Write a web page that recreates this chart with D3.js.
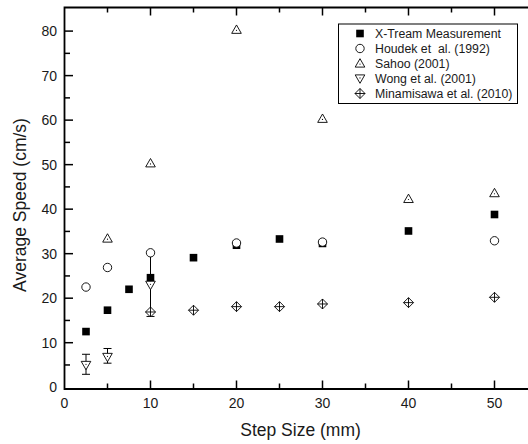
<!DOCTYPE html>
<html>
<head>
<meta charset="utf-8">
<script src="https://cdn.jsdelivr.net/npm/d3@7"></script>
<style>
  body { margin: 0; background: #fff; }
  text { font-family: "Liberation Sans", Arial, sans-serif; fill: #1a1a1a; white-space: pre; }
</style>
</head>
<body>
<div id="chart"></div>
<script>
// Average speed vs step size, several studies (Origin-style scatter)
const W = 528, H = 444;

// ---------- Data ----------
const xtreamX = [2.5, 5, 7.5, 10, 15, 20, 25, 30, 40, 50];
const xtreamY = [12.5, 17.3, 22.0, 24.6, 29.1, 31.9, 33.3, 32.3, 35.1, 38.8];

const houdekX = [2.5, 5, 10, 20, 30, 50];
const houdekY = [22.5, 26.9, 30.2, 32.4, 32.6, 32.9];

const sahooX = [5, 10, 20, 30, 40, 50];
const sahooY = [33.4, 50.3, 80.3, 60.3, 42.3, 43.6];

const wongX = [2.5, 5, 10];
const wongY = [5.0, 6.8, 23.0];
const wongLo = [2.9, 5.4, 15.9];
const wongHi = [7.4, 8.7, 30.4];

const minaX = [10, 15, 20, 25, 30, 40, 50];
const minaY = [16.9, 17.3, 18.1, 18.1, 18.7, 19.0, 20.2];

const legendNames = ["X-Tream Measurement", "Houdek et  al. (1992)", "Sahoo (2001)",
  "Wong et al. (2001)", "Minamisawa et al. (2010)"];
const legendKinds = ["square", "circle", "up", "down", "diamond"];

const xTicks = [0, 10, 20, 30, 40, 50];
const yTicks = [0, 10, 20, 30, 40, 50, 60, 70, 80];

// ---------- Layout ----------
const plotL = 64.5, plotT = 7.5, plotB = 389;
const x = d3.scaleLinear().domain([0, 55]).range([plotL, plotL + 55 * 8.6]);
const y = d3.scaleLinear().domain([-0.4, 85.3]).range([plotB, plotT]);

const svg = d3.select("#chart").append("svg").attr("width", W).attr("height", H);

// minor + major ticks, inward
const axisG = svg.append("g");
const xMinor = d3.range(5, 55, 10);
const yMinor = d3.range(5, 85, 10);

function tickLines(vals, len, side) {
  const horiz = side === "b" || side === "t";
  axisG.append("g").selectAll("line").data(vals).join("line")
    .attr("x1", d => horiz ? x(d) : plotL)
    .attr("x2", d => horiz ? x(d) : plotL + len)
    .attr("y1", d => side === "b" ? plotB : side === "t" ? plotT : y(d))
    .attr("y2", d => side === "b" ? plotB - len : side === "t" ? plotT + len : y(d))
    .attr("stroke", "#000").attr("stroke-width", 1.5);
}
tickLines(xTicks.filter(d => d > 0), 8.5, "b");
tickLines(xMinor, 5.5, "b");
tickLines(xTicks.filter(d => d > 0), 8, "t");
tickLines(xMinor, 5, "t");
tickLines(yTicks.filter(d => d > 0), 8.5, "l");
tickLines(yMinor, 5.5, "l");

// frame (right side runs past the window)
svg.append("path")
  .attr("d", `M${W + 20},${plotT}H${plotL}V${plotB}H${W + 20}`)
  .attr("fill", "none").attr("stroke", "#000").attr("stroke-width", 1.8);

// tick labels
svg.append("g").selectAll("text").data(xTicks).join("text")
  .attr("x", d => x(d)).attr("y", 408)
  .attr("text-anchor", "middle").attr("font-size", 14).text(d => d);
svg.append("g").selectAll("text").data(yTicks).join("text")
  .attr("x", 57).attr("y", d => y(d) + 5)
  .attr("text-anchor", "end").attr("font-size", 14).text(d => d);

// axis titles
svg.append("text").attr("x", 300.5).attr("y", 436)
  .attr("text-anchor", "middle").attr("font-size", 17.5).text("Step Size (mm)");
svg.append("text").attr("transform", "translate(26,205) rotate(-90)")
  .attr("text-anchor", "middle").attr("font-size", 17.5).text("Average Speed (cm/s)");

// ---------- Markers ----------
function marker(g, kind) {
  const outline = sel => sel.attr("stroke", "#000").attr("stroke-width", 0.9);
  if (kind === "square") {
    g.append("rect").attr("x", -3.8).attr("y", -3.8).attr("width", 7.6).attr("height", 7.6)
      .attr("fill", "#000");
  } else if (kind === "circle") {
    outline(g.append("circle").attr("r", 4.2).attr("fill", "#fff"));
  } else if (kind === "up") {
    outline(g.append("path").attr("d", "M0,-4.8L4.8,3.6L-4.8,3.6Z").attr("fill", "#fff"));
    g.append("circle").attr("r", 0.6).attr("cy", 0.6).attr("fill", "#000");
  } else if (kind === "down") {
    outline(g.append("path").attr("d", "M0,4.8L4.8,-3.6L-4.8,-3.6Z").attr("fill", "#fff"));
    g.append("circle").attr("r", 0.6).attr("cy", -0.6).attr("fill", "#000");
  } else if (kind === "diamond") {
    outline(g.append("path").attr("d", "M0,-5L5,0L0,5L-5,0Z").attr("fill", "#fff"));
    outline(g.append("path").attr("d", "M0,-5V5M-5,0H5").attr("fill", "none"));
  }
}

function series(xs, ys, kind) {
  const layer = svg.append("g");
  xs.forEach((xv, i) => {
    const g = layer.append("g").attr("transform", `translate(${x(xv)},${y(ys[i])})`);
    marker(g, kind);
  });
}

// Wong error bars
const errG = svg.append("g").attr("stroke", "#000").attr("stroke-width", 1);
wongX.forEach((xv, i) => {
  const cx = x(xv);
  errG.append("line").attr("x1", cx).attr("x2", cx).attr("y1", y(wongLo[i])).attr("y2", y(wongHi[i]));
  errG.append("line").attr("x1", cx - 4).attr("x2", cx + 4).attr("y1", y(wongLo[i])).attr("y2", y(wongLo[i]));
  errG.append("line").attr("x1", cx - 4).attr("x2", cx + 4).attr("y1", y(wongHi[i])).attr("y2", y(wongHi[i]));
});

series(xtreamX, xtreamY, "square");
series(minaX, minaY, "diamond");
series(wongX, wongY, "down");
series(sahooX, sahooY, "up");
series(houdekX, houdekY, "circle");

// ---------- Legend ----------
const lg = svg.append("g");
lg.append("rect").attr("x", 338.5).attr("y", 24).attr("width", 179).attr("height", 79.5)
  .attr("fill", "#fff").attr("stroke", "#000").attr("stroke-width", 1);
legendNames.forEach((name, i) => {
  const yy = 33.5 + i * 15;
  marker(lg.append("g").attr("transform", `translate(360,${yy})`), legendKinds[i]);
  lg.append("text").attr("x", 375).attr("y", yy + 4.3).attr("font-size", 12.3).text(name);
});
</script>
</body>
</html>
